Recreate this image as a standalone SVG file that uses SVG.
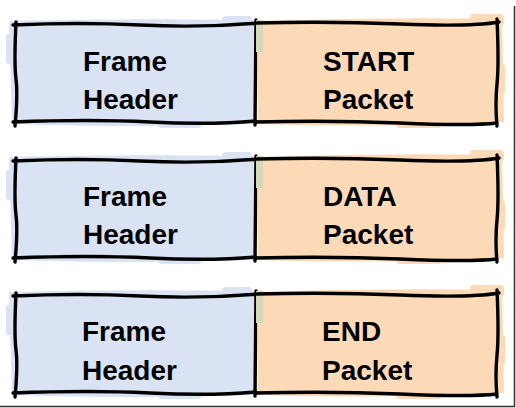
<svg xmlns="http://www.w3.org/2000/svg" width="516" height="408" viewBox="0 0 516 408">
<style>
.bf{fill:#dae3f3}
.of{fill:#fcdab8}
.mix{fill:#d5d9b6}
.ln{fill:none;stroke:#000;stroke-width:3.4;stroke-linecap:round;stroke-linejoin:round}
.t{font-family:"Liberation Sans",Arial,sans-serif;font-weight:bold;font-size:28px;fill:#000}
</style>
<defs>
<g id="blueFill">
<path class="bf" d="M9,-3 Q120,-6 257,-4 L257,100 Q140,104 12,100 Z"/>
<rect class="bf" x="222" y="-8" width="30" height="10" rx="4"/>
<rect class="bf" x="158" y="94" width="44" height="10" rx="4"/>
<rect class="bf" x="6" y="10" width="8" height="30" rx="3"/>
</g>
<g id="orangeFill">
<path class="of" d="M257,-3 Q380,-7 502,-5 L504,98 Q380,104 258,100 Z"/>
<rect class="of" x="470" y="-10" width="34" height="12" rx="4"/>
<rect class="of" x="396" y="94" width="46" height="10" rx="4"/>
<rect class="of" x="497" y="40" width="8" height="30" rx="3"/>
<rect class="mix" x="256" y="-4" width="7" height="32"/>
</g>
<path id="leftBox" class="ln" d="M13,1 Q80,-2 140,1 T259,-1 M16,-2 Q14,40 16,55 T15,102 M13,98 Q90,95 150,98 T256,97 M256,-4 L255,101"/>
<path id="rightBox" class="ln" d="M256,-1 Q330,-3 400,0 T499,-2 M497,-5 Q499,40 497,60 T497,102 M256,98 Q330,96 400,99 T497,99"/>
</defs>

<g id="connectors"/>

<g id="header1">
<use href="#blueFill" transform="translate(0,24)"/>
<use href="#leftBox" transform="translate(0,24)"/>
<text class="t" x="83" y="71">Frame</text>
<text class="t" x="83" y="109">Header</text>
</g>
<g id="start">
<use href="#orangeFill" transform="translate(0,24)"/>
<use href="#rightBox" transform="translate(0,24)"/>
<text class="t" x="323" y="71">START</text>
<text class="t" x="323" y="109">Packet</text>
</g>

<g id="header2">
<use href="#blueFill" transform="translate(0,160)"/>
<use href="#leftBox" transform="translate(0,160)"/>
<text class="t" x="83" y="206">Frame</text>
<text class="t" x="83" y="244">Header</text>
</g>
<g id="data">
<use href="#orangeFill" transform="translate(0,160)"/>
<use href="#rightBox" transform="translate(0,160)"/>
<text class="t" x="323" y="206">DATA</text>
<text class="t" x="323" y="244">Packet</text>
</g>

<g id="header3">
<use href="#blueFill" transform="translate(0,295)"/>
<use href="#leftBox" transform="translate(0,295)"/>
<text class="t" x="82" y="341">Frame</text>
<text class="t" x="82" y="380">Header</text>
</g>
<g id="end">
<use href="#orangeFill" transform="translate(0,295)"/>
<use href="#rightBox" transform="translate(0,295)"/>
<text class="t" x="322" y="341">END</text>
<text class="t" x="322" y="380">Packet</text>
</g>

<path d="M514.5,6 L514.5,406.5 L0,406.5" fill="none" stroke="#333" stroke-width="1.5"/>
</svg>
